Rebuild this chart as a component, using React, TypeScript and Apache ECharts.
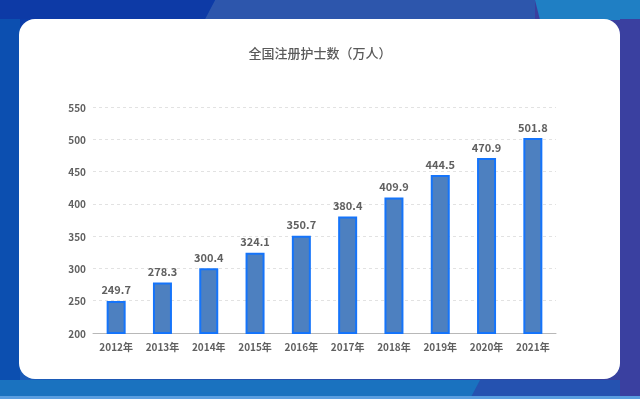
import React, { useEffect, useRef } from "react";
import * as echarts from "echarts";

const categories = ["2012年", "2013年", "2014年", "2015年", "2016年", "2017年", "2018年", "2019年", "2020年", "2021年"];
const nurses = [249.7, 278.3, 300.4, 324.1, 350.7, 380.4, 409.9, 444.5, 470.9, 501.8];
const titleText = "全国注册护士数（万人）";

export default function App() {
  const ref = useRef<HTMLDivElement>(null);
  useEffect(() => {
    document.body.style.margin = "0";
    const chart = echarts.init(ref.current!, null, { renderer: "svg" });
    const font = "Noto Sans CJK SC";
    chart.setOption({
      animation: false,
      backgroundColor: "transparent",
      title: {
        text: titleText,
        left: "center",
        top: 41,
        textStyle: { fontSize: 13, fontWeight: 500, color: "#5a5a5a", fontFamily: font },
      },
      graphic: [
        { type: "rect", z: -10, shape: { x: 0, y: 0, width: 640, height: 399 }, style: { fill: new echarts.graphic.LinearGradient(0, 0, 1, 1, [{ offset: 0, color: "#0a3aa8" }, { offset: 0.5, color: "#1a5cb8" }, { offset: 1, color: "#3a3f9c" }]) } },
        { type: "polygon", z: -9, shape: { points: [[215, 0], [535, 0], [535, 19], [205, 19]] }, style: { fill: "#2d56ac" } },
        { type: "polygon", z: -9, shape: { points: [[535, 0], [640, 0], [640, 110], [535, 19]] }, style: { fill: "#3a3f9e" } },
        { type: "polygon", z: -9, shape: { points: [[535, 0], [640, 0], [640, 20], [540, 20]] }, style: { fill: "#1f7fc4" } },
        { type: "polygon", z: -9, shape: { points: [[0, 0], [215, 0], [205, 19], [0, 19]] }, style: { fill: "#0d3aa6" } },
        { type: "polygon", z: -9, shape: { points: [[0, 19], [20, 19], [20, 380], [0, 380]] }, style: { fill: "#0c4fb0" } },
        { type: "polygon", z: -9, shape: { points: [[620, 19], [640, 19], [640, 399], [620, 399]] }, style: { fill: "#3a40a0" } },
        { type: "polygon", z: -9, shape: { points: [[0, 380], [620, 380], [620, 399], [0, 399]] }, style: { fill: "#1a72bf" } },
        { type: "polygon", z: -9, shape: { points: [[480, 380], [620, 380], [620, 399], [470, 399]] }, style: { fill: "#2552b0" } },
        { type: "rect", z: -8, shape: { x: 0, y: 396, width: 640, height: 3 }, style: { fill: "#5a9ee0" } },
        { type: "rect", z: -5, shape: { x: 19, y: 19, width: 601, height: 360, r: 16 }, style: { fill: "#ffffff" } },
      ],
      grid: { left: 93, right: 84, top: 107, bottom: 66 },
      xAxis: {
        type: "category",
        data: categories,
        axisTick: { show: false },
        axisLine: { lineStyle: { color: "#b8b8b8", width: 1 } },
        axisLabel: { color: "#606060", fontSize: 10, fontWeight: "bold", fontFamily: font, margin: 8 },
      },
      yAxis: {
        type: "value",
        min: 200,
        max: 550,
        interval: 50,
        axisLine: { show: false },
        axisTick: { show: false },
        splitLine: { lineStyle: { color: "#e2e2e2", type: [3, 3] } },
        axisLabel: { color: "#606060", fontSize: 10, fontWeight: "bold", fontFamily: font, margin: 7 },
      },
      series: [
        {
          type: "bar",
          data: nurses,
          barWidth: 19,
          itemStyle: { color: "#4d80c0", borderColor: "#1574fa", borderWidth: 2 },
          label: { show: true, position: "top", distance: 6, color: "#606060", fontSize: 11, fontWeight: "bold", fontFamily: font },
        },
      ],
    });
    return () => chart.dispose();
  }, []);
  return <div ref={ref} style={{ position: "fixed", left: 0, top: 0, width: 640, height: 399 }} />;
}
